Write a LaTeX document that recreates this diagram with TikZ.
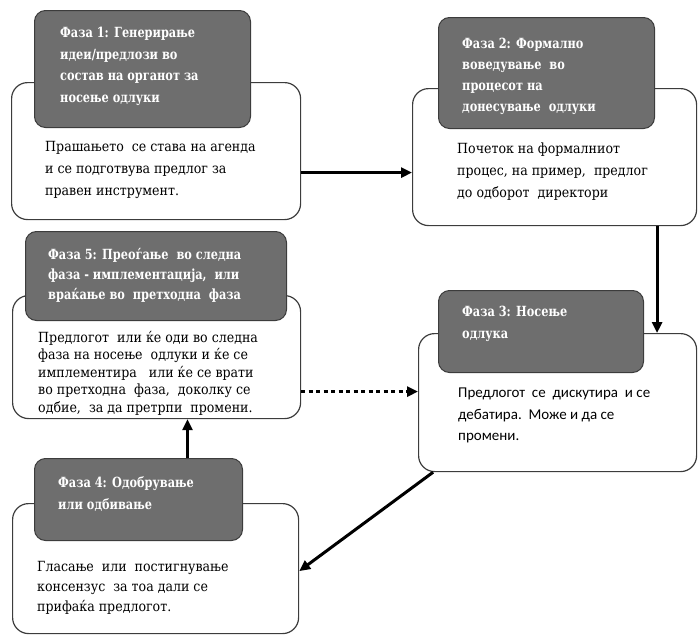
\documentclass[tikz,border=0pt]{standalone}
\usepackage{fontspec}
\setmainfont{DejaVu Serif}
\newfontfamily\hdfont{DejaVu Serif}[FakeStretch=0.81]
\newfontfamily\bdfont{DejaVu Serif}[FakeStretch=0.9]
\newfontfamily\calfont{Carlito}
\usetikzlibrary{arrows.meta}
\definecolor{hdrgray}{RGB}{110,110,110}
\definecolor{edgegray}{RGB}{60,60,60}
\begin{document}
\begin{tikzpicture}[x=1pt,y=-1pt,
 body/.style={draw=edgegray, line width=1.2pt, fill=white, rounded corners=16pt, anchor=north west, inner sep=0pt},
 hdr/.style={draw=edgegray, line width=1pt, fill=hdrgray, rounded corners=11pt, anchor=north west, inner sep=0pt},
 htxt/.style={anchor=north west, align=left, inner sep=0pt, text=white, font=\hdfont\fontsize{14}{21.5}\selectfont\bfseries},
 btxt/.style={anchor=north west, align=left, inner sep=0pt, text=black, font=\bdfont\fontsize{14}{22}\selectfont},
 arr/.style={line width=3pt, -{Triangle[length=11pt,width=10pt]}},
]
\useasboundingbox (0,0) rectangle (699,637);
% bodies
\node[body, minimum width=289pt, minimum height=137pt] (b1) at (11,82) {};
\node[body, minimum width=284pt, minimum height=137pt] (b2) at (412,88) {};
\node[body, minimum width=278pt, minimum height=138pt] (b3) at (418,333) {};
\node[body, minimum width=288pt, minimum height=123pt] (b5) at (12,295) {};
\node[body, minimum width=286pt, minimum height=130pt] (b4) at (12,503) {};
% headers
\node[hdr, minimum width=216pt, minimum height=117pt] (h1) at (34,10) {};
\node[hdr, minimum width=216pt, minimum height=111pt] (h2) at (438,17) {};
\node[hdr, minimum width=205pt, minimum height=82pt] (h3) at (438,290) {};
\node[hdr, minimum width=261pt, minimum height=89pt] (h5) at (25,231) {};
\node[hdr, minimum width=208pt, minimum height=82pt] (h4) at (34,458) {};
% texts
\node[htxt] (t1) at (60,27) {Фаза 1: Генерирање\\идеи/предлози во\\состав на органот за\\носење одлуки};
\node[btxt] (c1) at (45,141) {Прашањето\ \ се става на агенда\\и се подготвува предлог за\\правен инструмент.};
\node[htxt, font=\hdfont\fontsize{14}{21}\selectfont\bfseries] (t2) at (462,38) {Фаза 2: Формално\\воведување\ \ во\\процесот на\\донесување\ \ одлуки};
\node[btxt] (c2) at (457,143) {Почеток на формалниот\\процес, на пример,\ \ предлог\\до одборот\ \ директори};
\node[htxt, font=\hdfont\fontsize{14}{22}\selectfont\bfseries] (t3) at (462,306) {Фаза 3: Носење\\одлука};
\node[btxt, font=\calfont\fontsize{15}{21.5}\selectfont] (c3) at (458,388) {Предлогот\ \ се\ \ дискутира\ \ и се\\дебатира.\ \ Може и да се\\промени.};
\node[htxt, font=\hdfont\fontsize{14}{20}\selectfont\bfseries] (t5) at (48,248) {Фаза 5: Преоѓање\ \ во следна\\фаза - имплементација,\ \ или\\враќање во\ \ претходна\ \ фаза};
\node[btxt, font=\bdfont\fontsize{14}{17.5}\selectfont] (c5) at (38,331) {Предлогот\ \ или ќе оди во следна\\фаза на носење\ \ одлуки и ќе се\\имплементира\ \ \ или ќе се врати\\во претходна\ \ фаза,\ \ доколку се\\одбие,\ \ за да претрпи\ \ промени.};
\node[htxt, font=\hdfont\fontsize{14}{22}\selectfont\bfseries] (t4) at (58,476) {Фаза 4: Одобрување\\или одбивање};
\node[btxt, font=\bdfont\fontsize{14}{20}\selectfont] (c4) at (37,561) {Гласање\ \ или\ \ постигнување\\консензус\ \ за тоа дали се\\прифаќа предлогот.};
% connectors
\draw[arr] ([yshift=-21.5pt]b1.east) coordinate (a1) -- (a1 -| b2.west);
\draw[arr] ([xshift=102.5pt]b2.south) coordinate (a2) -- (a2 |- b3.north);
\draw[arr, dash pattern=on 4pt off 3.5pt] ([yshift=-34.5pt]b5.east) coordinate (a3) -- (a3 -| b3.west);
\draw[arr] ([xshift=-124.5pt]b3.south) -- ([yshift=-2.5pt]b4.east);
\draw[arr] ([xshift=49pt]h4.north) coordinate (a4) -- (a4 |- b5.south);
\end{tikzpicture}
\end{document}
